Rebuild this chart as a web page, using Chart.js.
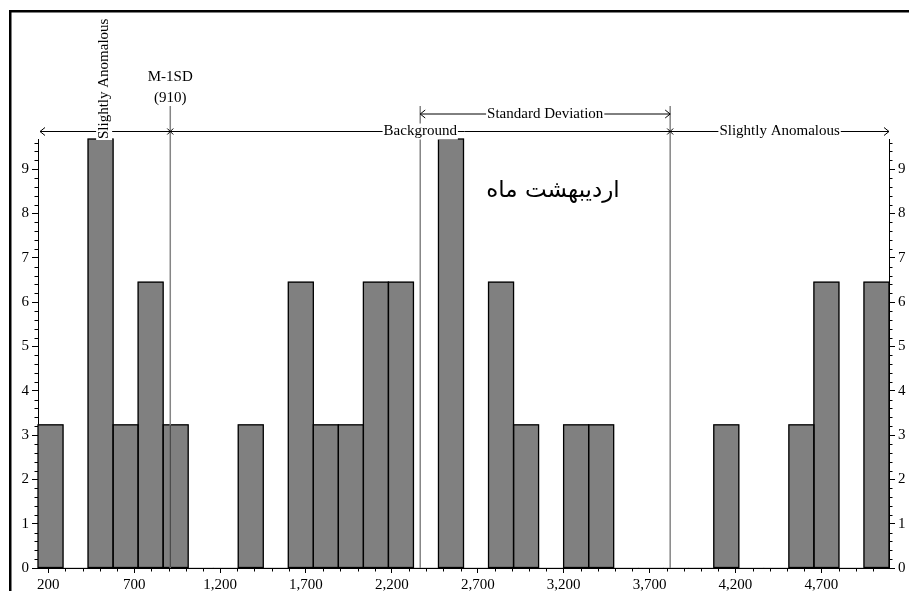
<!DOCTYPE html>
<html>
<head>
<meta charset="utf-8">
<script src="https://cdn.jsdelivr.net/npm/chart.js@4/dist/chart.umd.min.js"></script>
<style>
  html, body { margin: 0; padding: 0; background: #fff; }
  #c { display: block; }
</style>
</head>
<body>
<canvas id="c" width="909" height="591"></canvas>
<script>
// Histogram bins: first edge and width (same units as the x axis)
const binStart = 140;
const binWidth = 145.7;
// Percentage of samples in each bin
const percents = [3.23, 0, 9.68, 3.23, 6.45, 3.23, 0, 0, 3.23, 0,
                  6.45, 3.23, 3.23, 6.45, 6.45, 0, 9.68, 0, 6.45, 3.23,
                  0, 3.23, 3.23, 0, 0, 0, 0, 3.23, 0, 0,
                  3.23, 6.45, 0, 6.45];
const xTickValues = [200, 700, 1200, 1700, 2200, 2700, 3200, 3700, 4200, 4700];
const yTickValues = [0, 1, 2, 3, 4, 5, 6, 7, 8, 9];
const yMax = 9.68;
// Statistics markers
const meanValue = 2365;
const lowerSD = 910;    // M-1SD
const upperSD = 3820;   // M+1SD
const chartTitle = 'اردیبهشت ماه';

const serif = '"Liberation Serif", "Times New Roman", serif';
const tickFont = { family: serif, size: 15 };

const binData = percents.map((p, i) => ({ x: binStart + binWidth * (i + 0.5), y: p }));

function arrowHead(ctx, x, y, dir) {
  // dir = -1 points left, +1 points right
  ctx.beginPath();
  ctx.moveTo(x - dir * 5, y - 4);
  ctx.lineTo(x, y);
  ctx.lineTo(x - dir * 5, y + 4);
  ctx.stroke();
}

function crossMark(ctx, x, y) {
  ctx.beginPath();
  ctx.moveTo(x - 3, y - 3); ctx.lineTo(x + 3, y + 3);
  ctx.moveTo(x - 3, y + 3); ctx.lineTo(x + 3, y - 3);
  ctx.stroke();
}

function gapLabel(ctx, text, cx, cy) {
  const w = ctx.measureText(text).width;
  ctx.fillStyle = '#fff';
  ctx.fillRect(cx - w / 2 - 1, cy - 8, w + 2, 16);
  ctx.fillStyle = '#000';
  ctx.fillText(text, cx, cy);
}

const decorations = {
  id: 'decorations',
  afterDatasetsDraw(chart) {
    const { ctx, chartArea: a, scales } = chart;
    const xs = scales.x;
    const meta = chart.getDatasetMeta(0);
    ctx.save();

    // bar outlines (shared edges stay single-width)
    ctx.strokeStyle = '#000';
    ctx.lineWidth = 1.3;
    meta.data.forEach((bar, i) => {
      if (!percents[i]) return;
      const p = bar.getProps(['x', 'y', 'base', 'width'], true);
      ctx.strokeRect(p.x - p.width / 2, p.y, p.width, p.base - p.y);
    });

    // statistic lines
    const topY = 106;
    [lowerSD, meanValue, upperSD].forEach(v => {
      const px = xs.getPixelForValue(v);
      ctx.strokeStyle = '#858585';
      ctx.lineWidth = 1.5;
      ctx.beginPath(); ctx.moveTo(px, topY); ctx.lineTo(px, a.bottom); ctx.stroke();
      meta.data.forEach((bar, i) => {
        if (!percents[i]) return;
        const p = bar.getProps(['x', 'y', 'base', 'width'], true);
        if (px > p.x - p.width / 2 && px < p.x + p.width / 2) {
          ctx.strokeStyle = '#3a3a3a';
          ctx.lineWidth = 1;
          ctx.beginPath(); ctx.moveTo(px, p.y); ctx.lineTo(px, p.base); ctx.stroke();
        }
      });
    });
    ctx.restore();
  },
  afterDraw(chart) {
    const { ctx, chartArea: a, scales } = chart;
    const xs = scales.x, ys = scales.y;
    ctx.save();
    ctx.strokeStyle = '#000';
    ctx.fillStyle = '#000';

    // outer frame
    ctx.lineWidth = 2.5;
    ctx.beginPath();
    ctx.moveTo(10.25, 700); ctx.lineTo(10.25, 11.25); ctx.lineTo(1000, 11.25);
    ctx.stroke();

    // minor ticks
    ctx.lineWidth = 1;
    ctx.beginPath();
    for (let i = 1; i * 0.2 <= yMax; i++) {
      if (i % 5 === 0) continue;
      const py = Math.round(ys.getPixelForValue(i * 0.2)) + 0.5;
      ctx.moveTo(a.left - 3.5, py); ctx.lineTo(a.left, py);
      ctx.moveTo(a.right, py); ctx.lineTo(a.right + 3.5, py);
    }
    for (let v = 300; v < xs.max; v += 100) {
      if ((v - 200) % 500 === 0) continue;
      const px = Math.round(xs.getPixelForValue(v)) + 0.5;
      ctx.moveTo(px, a.bottom); ctx.lineTo(px, a.bottom + 3.5);
    }
    ctx.stroke();

    const xMin = xs.getPixelForValue(xs.min);
    const xMax = xs.getPixelForValue(xs.max);
    const xLow = xs.getPixelForValue(lowerSD);
    const xMean = xs.getPixelForValue(meanValue);
    const xHigh = xs.getPixelForValue(upperSD);

    ctx.font = '15px ' + serif;
    ctx.textAlign = 'center';
    ctx.textBaseline = 'middle';

    // range arrow: background / anomalous
    const yRange = 131.5;
    ctx.lineWidth = 1;
    ctx.beginPath(); ctx.moveTo(xMin + 2, yRange); ctx.lineTo(xMax, yRange); ctx.stroke();
    arrowHead(ctx, xMin + 2, yRange, -1);
    arrowHead(ctx, xMax, yRange, 1);
    crossMark(ctx, xLow, yRange);
    crossMark(ctx, xHigh, yRange);
    gapLabel(ctx, 'Background', xMean, yRange);
    gapLabel(ctx, 'Slightly Anomalous', (xHigh + xMax) / 2, yRange);

    // vertical label for the low-side band
    ctx.save();
    ctx.translate((xMin + xLow) / 2, 139);
    ctx.rotate(-Math.PI / 2);
    ctx.textAlign = 'left';
    const vw = ctx.measureText('Slightly Anomalous').width;
    ctx.fillStyle = '#fff';
    ctx.fillRect(-1, -8, vw + 2, 16);
    ctx.fillStyle = '#000';
    ctx.fillText('Slightly Anomalous', 0, 0);
    ctx.restore();

    // standard deviation span
    const ySD = 114;
    ctx.beginPath(); ctx.moveTo(xMean, ySD); ctx.lineTo(xHigh, ySD); ctx.stroke();
    arrowHead(ctx, xMean, ySD, -1);
    arrowHead(ctx, xHigh, ySD, 1);
    gapLabel(ctx, 'Standard Deviation', (xMean + xHigh) / 2, ySD);

    // M-1SD label
    ctx.fillStyle = '#000';
    ctx.fillText('M-1SD', xLow, 77);
    ctx.fillText('(' + lowerSD + ')', xLow, 98);

    // title inside the plot
    ctx.font = '23px "DejaVu Sans", "Noto Sans", sans-serif';
    ctx.direction = 'rtl';
    ctx.fillText(chartTitle, 553, 191);

    ctx.restore();
  }
};

const yAxisCommon = {
  min: 0,
  max: yMax,
  afterBuildTicks: s => { s.ticks = yTickValues.map(v => ({ value: v })); },
  ticks: { font: tickFont, color: '#000', padding: 3, autoSkip: false },
  grid: { drawOnChartArea: false, tickLength: 6, color: '#000', tickWidth: 1 },
  border: { color: '#000', width: 1 }
};

new Chart(document.getElementById('c'), {
  type: 'bar',
  data: {
    datasets: [{
      data: binData,
      backgroundColor: '#808080',
      borderWidth: 0,
      barPercentage: 1,
      categoryPercentage: 1,
      xAxisID: 'x',
      yAxisID: 'y'
    }]
  },
  options: {
    responsive: false,
    devicePixelRatio: 1,
    animation: false,
    layout: { padding: { top: 139, left: 0, right: 0, bottom: 0 } },
    plugins: { legend: { display: false }, tooltip: { enabled: false } },
    scales: {
      x: {
        type: 'linear',
        offset: false,
        min: binStart,
        max: binStart + binWidth * percents.length,
        afterBuildTicks: s => { s.ticks = xTickValues.map(v => ({ value: v })); },
        afterFit: s => { s.height = 23; },
        ticks: {
          font: tickFont, color: '#000', padding: 3, maxRotation: 0, autoSkip: false,
          callback: v => v.toLocaleString('en-US')
        },
        grid: { drawOnChartArea: false, offset: false, tickLength: 5, color: '#000' },
        border: { color: '#000', width: 1 }
      },
      y: Object.assign({}, yAxisCommon, {
        position: 'left',
        afterFit: s => { s.width = 38; }
      }),
      y2: Object.assign({}, yAxisCommon, {
        position: 'right',
        afterFit: s => { s.width = 20; }
      })
    }
  },
  plugins: [decorations]
});
</script>
</body>
</html>
